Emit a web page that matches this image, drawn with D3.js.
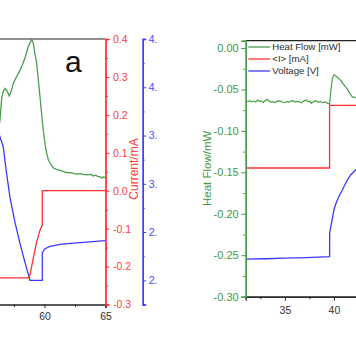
<!DOCTYPE html>
<html><head><meta charset="utf-8">
<script src="https://cdn.jsdelivr.net/npm/d3@7"></script>
<style>
html,body{margin:0;padding:0;background:#fff;}
svg{display:block;font-family:"Liberation Sans",Arial,sans-serif;}
</style></head>
<body>
<svg id="chart" width="356" height="364"></svg>
<script>
// ---------- Panel (a): time (min) ----------
const leftHeat = [[56.2,0.150],[56.35,0.186],[56.49,0.244],[56.62,0.262],[56.76,0.270],[56.95,0.262],[57.11,0.250],[57.27,0.262],[57.44,0.283],[57.7,0.300],[57.99,0.318],[58.2,0.333],[58.40,0.350],[58.67,0.380],[58.85,0.392],[58.95,0.399],[59.08,0.389],[59.2,0.365],[59.36,0.336],[59.5,0.290],[59.63,0.248],[59.77,0.200],[59.90,0.160],[60.05,0.122],[60.18,0.099],[60.3,0.083],[60.45,0.073],[60.72,0.060],[61.0,0.056],[61.4,0.052],[61.82,0.048],[62.2,0.047],[62.6,0.044],[62.9,0.045],[63.18,0.043],[63.5,0.042],[63.8,0.043],[64.0,0.039],[64.2,0.041],[64.4,0.037],[64.55,0.037],[64.7,0.033],[64.8,0.036],[64.96,0.035]];
const leftCurrent = [[55.0,-0.23],[58.65,-0.23],[58.81,-0.222],[59.08,-0.178],[59.36,-0.134],[59.63,-0.104],[59.82,-0.090],[59.82,0.0],[65.0,0.0]];
const leftVoltage = [[56.2,3.55],[56.35,3.486],[56.62,3.382],[56.90,3.10],[57.17,2.86],[57.58,2.60],[57.99,2.383],[58.40,2.186],[58.81,1.999],[59.82,1.999],[59.82,2.287],[60.04,2.328],[60.45,2.352],[61.27,2.373],[62.36,2.386],[63.46,2.397],[64.96,2.411]];
const leftXTicks = [60,65];
const leftXMinor = [57.5,62.5];
const currentTicks = [-0.3,-0.2,-0.1,0.0,0.1,0.2,0.3,0.4];
const currentMinor = [-0.25,-0.15,-0.05,0.05,0.15,0.25,0.35];
const voltTicks = [2.0,2.5,3.0,3.5,4.0,4.5];
const voltMinor = [1.75,2.25,2.75,3.25,3.75,4.25];

// ---------- Panel (b) ----------
const rightHeat = [[31.0,-0.0639],[31.2,-0.0645],[31.4,-0.0636],[31.57,-0.0648],[31.8,-0.0640],[32.0,-0.0652],[32.24,-0.0627],[32.45,-0.0645],[32.6,-0.0638],[32.76,-0.0660],[32.95,-0.0640],[33.16,-0.0619],[33.35,-0.0635],[33.55,-0.0652],[33.78,-0.0648],[34.0,-0.0660],[34.2,-0.0640],[34.46,-0.0639],[34.7,-0.0650],[34.97,-0.0660],[35.2,-0.0645],[35.4,-0.0655],[35.6,-0.0640],[35.82,-0.0636],[36.05,-0.0652],[36.3,-0.0645],[36.5,-0.0648],[36.7,-0.0660],[36.95,-0.0638],[37.18,-0.0627],[37.4,-0.0650],[37.55,-0.0640],[37.69,-0.0668],[37.9,-0.0652],[38.05,-0.0639],[38.2,-0.0639],[38.4,-0.0655],[38.6,-0.0645],[38.88,-0.0660],[39.1,-0.0650],[39.39,-0.0668],[39.56,-0.0676],[39.7,-0.0500],[39.85,-0.0360],[40.0,-0.0326],[40.15,-0.0332],[40.35,-0.0352],[40.5,-0.0368],[40.6,-0.0382],[40.75,-0.0395],[40.86,-0.0426],[41.0,-0.0440],[41.19,-0.0470],[41.35,-0.0490],[41.53,-0.0530],[41.7,-0.0560],[41.88,-0.0590],[42.05,-0.0592],[42.21,-0.0600],[42.5,-0.0610]];
const rightCurrent = [[31.0,-0.23],[39.56,-0.23],[39.56,0.0],[45.0,0.0]];
const rightVoltage = [[31.0,2.212],[33.0,2.215],[35.0,2.222],[37.2,2.228],[39.56,2.237],[39.57,2.50],[39.66,2.55],[39.80,2.63],[40.0,2.748],[40.15,2.80],[40.35,2.858],[40.6,2.915],[40.86,2.967],[41.19,3.040],[41.43,3.085],[41.70,3.131],[42.21,3.186],[42.6,3.23]];
const rightXTicks = [35,40];
const rightXMinor = [32.5,37.5,42.5];
const heatTicks = [-0.30,-0.25,-0.20,-0.15,-0.10,-0.05,0.00];
const heatMinor = [-0.275,-0.225,-0.175,-0.125,-0.075,-0.025];
const legendLabels = ["Heat Flow [mW]","<I> [mA]","Voltage [V]"];

const GREEN = "#4a9e4a", RED = "#ff3030", BLUE = "#3a3aff";
const GREEN_T = "#3f9a3f", RED_T = "#ff3b3b", BLUE_T = "#4a4aff";

const svg = d3.select("#chart");
const defs = svg.append("defs");
defs.append("clipPath").attr("id","clipL").append("rect").attr("x",0).attr("y",0).attr("width",157).attr("height",364);
defs.append("clipPath").attr("id","clipLplot").append("rect").attr("x",0).attr("y",38).attr("width",105.5).attr("height",268);
defs.append("clipPath").attr("id","clipRplot").append("rect").attr("x",245.7).attr("y",40).attr("width",120).attr("height",257);

const fmt = k => d => (Math.abs(d) < 1e-9 ? 0 : d).toFixed(k);

function minorTicks(g, axisFn, scale, vals, size){
  g.append("g").call(axisFn(scale).tickValues(vals).tickSize(size).tickFormat(""));
}

// ===== Left panel =====
const L = svg.append("g").attr("clip-path","url(#clipL)");
const xL = d3.scaleLinear().domain([55,65]).range([44.5-5*12.2,105.5]);
const yCurL = d3.scaleLinear().domain([-0.3,0.4]).range([304.5,39]);
const yVoltL = d3.scaleLinear().domain([1.75,4.5]).range([304.5,39]);
const yHeatL = d3.scaleLinear().domain([-0.3,0.4]).range([304.5,39]);

L.append("line").attr("x1",-30).attr("x2",105.5).attr("y1",39).attr("y2",39).attr("stroke","#222").attr("stroke-width",1.2);

const Lp = L.append("g").attr("clip-path","url(#clipLplot)");
const line = (xs, ys) => d3.line().x(d=>xs(d[0])).y(d=>ys(d[1]));
Lp.append("path").datum(leftHeat).attr("d",line(xL,yHeatL)).attr("fill","none").attr("stroke",GREEN).attr("stroke-width",1.3);
Lp.append("path").datum(leftVoltage).attr("d",line(xL,yVoltL)).attr("fill","none").attr("stroke",BLUE).attr("stroke-width",1.3);
Lp.append("path").datum(leftCurrent).attr("d",line(xL,yCurL)).attr("fill","none").attr("stroke",RED).attr("stroke-width",1.3);

const gxL = L.append("g").attr("transform","translate(0,304.5)");
gxL.call(d3.axisBottom(xL).tickValues(leftXTicks).tickSize(3.5).tickPadding(5).tickFormat(d3.format("d")));
minorTicks(gxL, d3.axisBottom, xL, leftXMinor, 2.5);
gxL.selectAll(".domain").attr("stroke","#222").attr("stroke-width",1.2);
gxL.selectAll("line").attr("stroke","#222");
gxL.selectAll("text").attr("fill","#333").attr("font-size","10.5px").attr("font-family","Liberation Sans, Arial, sans-serif");

const gc = L.append("g").attr("transform","translate(105.5,0)");
gc.call(d3.axisRight(yCurL).tickValues(currentTicks).tickSize(4).tickPadding(3.5).tickFormat(fmt(1)));
minorTicks(gc, d3.axisRight, yCurL, currentMinor, 2.5);
gc.selectAll(".domain").attr("stroke",RED).attr("stroke-width",1.3);
gc.selectAll("line").attr("stroke",RED);
gc.selectAll("text").attr("fill",RED_T).attr("font-size","10.5px").attr("font-family","Liberation Sans, Arial, sans-serif");

const gv = L.append("g").attr("transform","translate(142.7,0)");
gv.call(d3.axisRight(yVoltL).tickValues(voltTicks).tickSize(3.5).tickPadding(2.5).tickFormat(fmt(1)));
minorTicks(gv, d3.axisRight, yVoltL, voltMinor, 2);
gv.selectAll(".domain").attr("stroke",BLUE).attr("stroke-width",1.3);
gv.selectAll("line").attr("stroke",BLUE);
gv.selectAll("text").attr("fill",BLUE_T).attr("font-size","10.5px").attr("font-family","Liberation Sans, Arial, sans-serif");

L.append("text").attr("transform","translate(137.5,169) rotate(-90)").attr("text-anchor","middle")
 .attr("fill",RED_T).attr("font-size","12px").text("Current/mA");
L.append("text").attr("x",65).attr("y",71.5).attr("font-size","30px").attr("fill","#111").text("a");

// ===== Right panel =====
const R = svg.append("g");
const xR = d3.scaleLinear().domain([31,45]).range([245.7,245.7+14*9.8]);
const yR = d3.scaleLinear().domain([-0.30,0.0088]).range([296.7,40.7]);
const yIR = d3.scaleLinear().domain([-0.702,0.237]).range([296.7,40.7]);
const yVR = d3.scaleLinear().domain([1.8,4.6]).range([296.7,40.7]);

R.append("line").attr("x1",245.7).attr("x2",400).attr("y1",40.7).attr("y2",40.7).attr("stroke","#222").attr("stroke-width",1.2);

const Rp = R.append("g").attr("clip-path","url(#clipRplot)");
Rp.append("path").datum(rightVoltage).attr("d",line(xR,yVR)).attr("fill","none").attr("stroke",BLUE).attr("stroke-width",1.3);
Rp.append("path").datum(rightCurrent).attr("d",line(xR,yIR)).attr("fill","none").attr("stroke",RED).attr("stroke-width",1.3);
Rp.append("path").datum(rightHeat).attr("d",line(xR,yR)).attr("fill","none").attr("stroke",GREEN).attr("stroke-width",1.2);

const gxR = R.append("g").attr("transform","translate(0,296.7)");
gxR.call(d3.axisBottom(xR).tickValues(rightXTicks).tickSize(4).tickPadding(6).tickFormat(d3.format("d")));
minorTicks(gxR, d3.axisBottom, xR, rightXMinor, 2.5);
gxR.selectAll(".domain").attr("stroke","#222").attr("stroke-width",1.2);
gxR.selectAll("line").attr("stroke","#222");
gxR.selectAll("text").attr("fill","#333").attr("font-size","10.5px").attr("font-family","Liberation Sans, Arial, sans-serif");

const gyR = R.append("g").attr("transform","translate(245.7,0)");
gyR.call(d3.axisLeft(yR).tickValues(heatTicks).tickSize(4.5).tickPadding(2.5).tickFormat(fmt(2)));
minorTicks(gyR, d3.axisLeft, yR, heatMinor, 2.5);
gyR.selectAll(".domain").attr("stroke",GREEN).attr("stroke-width",1.4);
gyR.selectAll("line").attr("stroke",GREEN);
gyR.selectAll("text").attr("fill",GREEN_T).attr("font-size","11px").attr("font-family","Liberation Sans, Arial, sans-serif");

R.append("text").attr("transform","translate(210.7,168.3) rotate(-90)").attr("text-anchor","middle")
 .attr("fill",GREEN_T).attr("font-size","11.5px").text("Heat Flow/mW");

const legColors = [GREEN, RED, BLUE];
const leg = R.append("g");
legendLabels.forEach((lab,i)=>{
  const y = 47 + i*12;
  leg.append("line").attr("x1",248.3).attr("x2",270).attr("y1",y).attr("y2",y).attr("stroke",legColors[i]).attr("stroke-width",1.3);
  leg.append("text").attr("x",272.3).attr("y",y).attr("dy","0.35em").attr("font-size","9.6px")
    .attr("fill","#2a2a2a").text(lab);
});
</script>
</body></html>
